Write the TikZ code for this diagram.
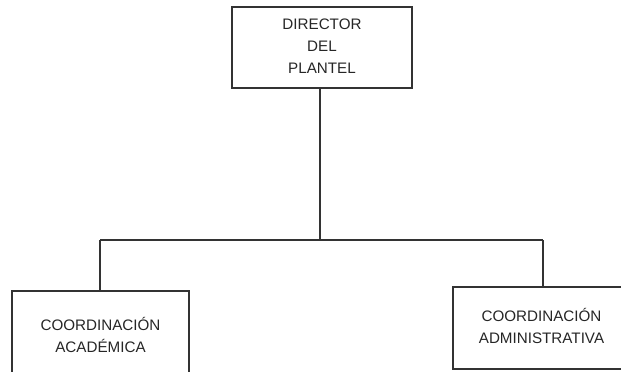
\documentclass[tikz,border=0pt]{standalone}
\usepackage{fontspec}
\setmainfont{Liberation Sans}
\definecolor{ink}{HTML}{262626}
\definecolor{edge}{HTML}{333333}
\begin{document}
\begin{tikzpicture}[x=1pt,y=-1pt,
  box/.style={draw=edge, line width=1.1pt, fill=white, align=center, text=ink,
    font=\fontsize{15.2}{22}\selectfont, inner sep=0pt},
  conn/.style={draw=edge, line width=1.1pt}]
\useasboundingbox (0,0) rectangle (621,372);
\clip (0,0) rectangle (621,372);
\node[box, minimum width=180pt, minimum height=81pt] (top) at (322,47.5) {\raisebox{3pt}{\begin{tabular}{@{}c@{}}DIRECTOR\\DEL\\PLANTEL\end{tabular}}};
\node[box, minimum width=177pt, minimum height=93pt] (acad) at (100.5,337.5) {\begin{tabular}{@{}c@{}}COORDINACIÓN\\ACADÉMICA\end{tabular}};
\node[box, minimum width=177pt, minimum height=82pt] (admin) at (541.5,328) {\raisebox{-3pt}{\begin{tabular}{@{}c@{}}COORDINACIÓN\\ADMINISTRATIVA\end{tabular}}};
\coordinate (bus) at (320,240);
\coordinate (busL) at (100,240);
\coordinate (busR) at (543,240);
\draw[conn] (top.south -| bus) -- (bus);
\draw[conn] (busL) -- (busR);
\draw[conn] (busL) -- (busL |- acad.north);
\draw[conn] (busR) -- (busR |- admin.north);
\end{tikzpicture}
\end{document}
